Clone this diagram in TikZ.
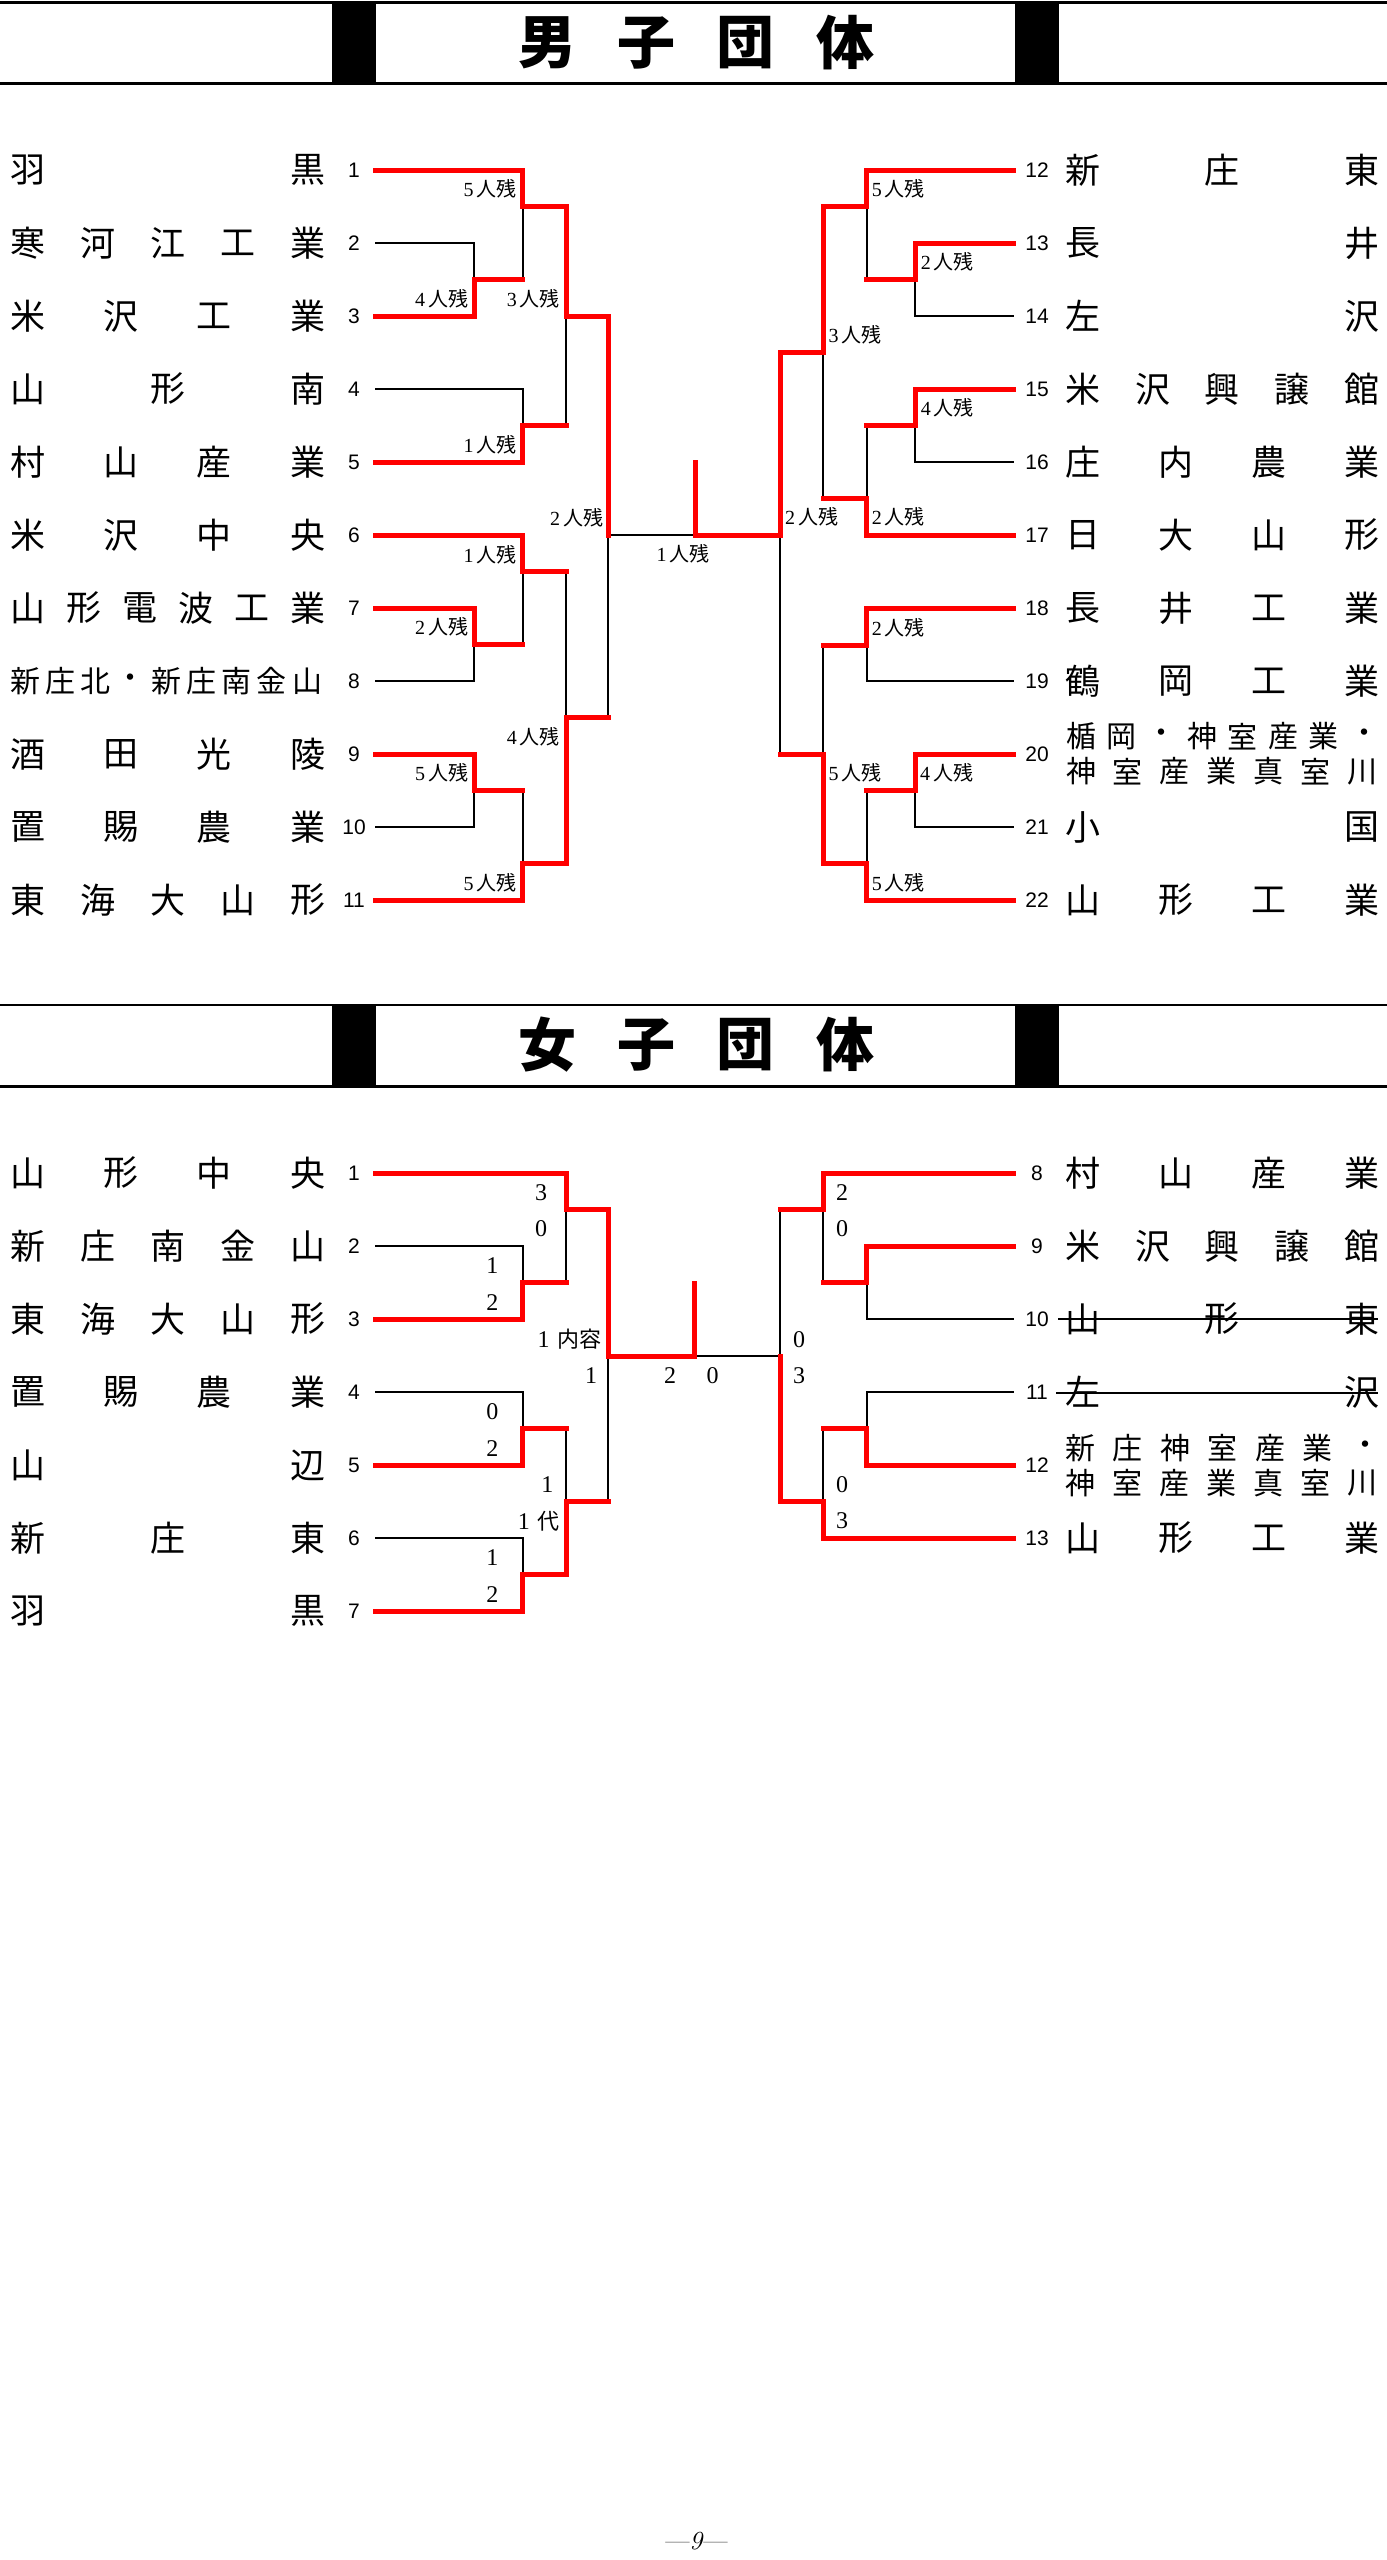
\documentclass[tikz,border=0pt]{standalone}
\usepackage{fontspec}
\newfontfamily\cjk{Noto Sans CJK JP}
\newfontfamily\numf{Liberation Sans}
\newfontfamily\serf{Liberation Serif}
\pgfdeclarelayer{back}
\pgfdeclarelayer{bg}
\pgfsetlayers{back,bg,main}
\tikzset{
  win/.style={draw=red, line width=5pt, line cap=rect},
  lose/.style={draw=black, line width=2pt, line cap=rect},
  namesty/.style={inner sep=0pt, font=\cjk\fontsize{35}{35}\selectfont},
  smallname/.style={inner sep=0pt, font=\cjk\fontsize{30}{30}\selectfont},
  numsty/.style={inner sep=0pt, font=\numf\fontsize{21}{21}\selectfont},
  labsty/.style={inner sep=0pt, font=\fontsize{20}{20}\selectfont},
  wlab/.style={inner sep=0pt, font=\serf\fontsize{24}{24}\selectfont},
  titlesty/.style={inner sep=0pt, font=\cjk\bfseries\fontsize{58}{58}\selectfont},
  hdrline/.style={draw=black, line width=2.5pt},
  hdrblock/.style={fill=black},
  strike/.style={draw=black, line width=2pt},
  pagesty/.style={inner sep=0pt, font=\fontsize{26}{26}\selectfont},
}
\newcommand{\win}[2]{\draw[win] (#1) -- (#2);}
\newcommand{\lose}[2]{\begin{pgfonlayer}{bg}\draw[lose] (#1) -- (#2);\end{pgfonlayer}}
% name, x, ytop, ybot, yjunction, winner (t/b)
\newcommand{\match}[6]{%
  \coordinate (#1t) at (#2,#3);
  \coordinate (#1b) at (#2,#4);
  \coordinate (#1j) at (#2,#5);
  \if#6t\lose{#1j}{#1b}\win{#1t}{#1j}\else\lose{#1t}{#1j}\win{#1b}{#1j}\fi}
% prefix, style, x0, x1, y, n, list
\newcommand{\spread}[7]{%
  \foreach \ch [count=\ii] in {#7} {\node[#2] (#1\ii) at ({#3+(\ii-1)*(#4-#3)/(#6-1)},#5) {\ch};}}
% id, number, y, n, list
\newcommand{\lteam}[5]{%
  \coordinate (#1) at (375.7,#3);
  \node[numsty] (#1n) at (354,#3) {#2};
  \spread{#1c}{namesty}{27.5}{307.5}{#3}{#4}{#5}}
\newcommand{\rteam}[5]{%
  \coordinate (#1) at (1013,#3);
  \node[numsty] (#1n) at (1037,#3) {#2};
  \spread{#1c}{namesty}{1083}{1361.5}{#3}{#4}{#5}}
\newcommand{\nin}[1]{{\serf #1}\hspace{3pt}{\cjk 人残}}
\newcommand{\header}[5]{% prefix, ytop, ybot, ymid, title list
  \draw[hdrline] (0,#2) -- (1387,#2);
  \draw[hdrline] (0,#3) -- (1387,#3);
  \fill[hdrblock] (331.8,#2) rectangle (376,#3);
  \fill[hdrblock] (1015,#2) rectangle (1059,#3);
  \spread{#1}{titlesty}{547}{845}{#4}{4}{#5}}

\begin{document}
\begin{tikzpicture}[x=1pt,y=-1pt]
\begin{pgfonlayer}{back}
\fill[white] (0,0) rectangle (1387,2560);
\end{pgfonlayer}
\useasboundingbox (0,0) rectangle (1387,2560);

% ================= headers =================
\header{hm}{2.7}{83.3}{42.5}{男,子,団,体}
\header{hw}{1005}{1086.7}{1045}{女,子,団,体}

% ================= men: teams =================
\lteam{L1}{1}{170}{2}{羽,黒}
\lteam{L2}{2}{243}{5}{寒,河,江,工,業}
\lteam{L3}{3}{316}{4}{米,沢,工,業}
\lteam{L4}{4}{389}{3}{山,形,南}
\lteam{L5}{5}{462}{4}{村,山,産,業}
\lteam{L6}{6}{535}{4}{米,沢,中,央}
\lteam{L7}{7}{608}{6}{山,形,電,波,工,業}
\coordinate (L8) at (375.7,681);
\node[numsty] (L8n) at (354,681) {8};
\spread{L8c}{smallname}{25}{307}{681}{9}{新,庄,北,・,新,庄,南,金,山}
\lteam{L9}{9}{754}{4}{酒,田,光,陵}
\lteam{L10}{10}{827}{4}{置,賜,農,業}
\lteam{L11}{11}{900}{5}{東,海,大,山,形}

\rteam{R12}{12}{170}{3}{新,庄,東}
\rteam{R13}{13}{243}{2}{長,井}
\rteam{R14}{14}{316}{2}{左,沢}
\rteam{R15}{15}{389}{5}{米,沢,興,譲,館}
\rteam{R16}{16}{462}{4}{庄,内,農,業}
\rteam{R17}{17}{535}{4}{日,大,山,形}
\rteam{R18}{18}{608}{4}{長,井,工,業}
\rteam{R19}{19}{681}{4}{鶴,岡,工,業}
\coordinate (R20) at (1013,754);
\node[numsty] (R20n) at (1037,754) {20};
\spread{R20a}{smallname}{1081}{1364}{736.5}{8}{楯,岡,・,神,室,産,業,・}
\spread{R20b}{smallname}{1081}{1362}{771.5}{7}{神,室,産,業,真,室,川}
\rteam{R21}{21}{827}{2}{小,国}
\rteam{R22}{22}{900}{4}{山,形,工,業}

% ================= men: left bracket =================
\match{LA}{474}{243}{316}{279}{b}
\match{LB}{522.7}{170}{279}{206}{t}
\match{LC}{522.7}{389}{462}{425}{b}
\match{LD}{566}{206}{425}{316}{t}
\match{LE}{474}{608}{681}{644}{t}
\match{LF}{522.7}{535}{644}{571}{t}
\match{LG}{474}{754}{827}{790.5}{t}
\match{LH}{522.7}{790.5}{900}{863}{b}
\match{LI}{566}{571}{863}{717}{b}
\match{LS}{608}{316}{717}{535}{t}
\win{L1}{LBt} \lose{L2}{LAt} \win{L3}{LAb} \lose{L4}{LCt} \win{L5}{LCb}
\win{L6}{LFt} \win{L7}{LEt} \lose{L8}{LEb} \win{L9}{LGt} \lose{L10}{LGb} \win{L11}{LHb}
\win{LAj}{LBb} \win{LBj}{LDt} \win{LCj}{LDb} \win{LDj}{LSt}
\win{LEj}{LFb} \win{LFj}{LIt} \win{LGj}{LHt} \win{LHj}{LIb} \win{LIj}{LSb}

% ================= men: right bracket =================
\match{RA}{915}{243}{316}{279}{t}
\match{RB}{866.7}{170}{279}{206}{t}
\match{RC}{915}{389}{462}{425}{t}
\match{RD}{866.7}{425}{535}{498}{b}
\match{RE}{823}{206}{498}{352}{t}
\match{RF}{866.7}{608}{681}{645}{t}
\match{RG}{915}{754}{827}{790.5}{t}
\match{RH}{866.7}{790.5}{900}{863}{b}
\match{RI}{823}{645}{863}{754}{b}
\match{RS}{780}{352}{754}{535}{t}
\win{R12}{RBt} \win{R13}{RAt} \lose{R14}{RAb} \win{R15}{RCt} \lose{R16}{RCb}
\win{R17}{RDb} \win{R18}{RFt} \lose{R19}{RFb} \win{R20}{RGt} \lose{R21}{RGb} \win{R22}{RHb}
\win{RAj}{RBb} \win{RBj}{REt} \win{RCj}{RDt} \win{RDj}{REb} \win{REj}{RSt}
\win{RFj}{RIt} \win{RGj}{RHt} \win{RHj}{RIb} \win{RIj}{RSb}

% ================= men: final =================
\coordinate (MFC) at (695,535);
\coordinate (MFT) at (695,462);
\lose{LSj}{MFC} \win{MFC}{RSj} \win{MFC}{MFT}

% ================= men: labels =================
\node[labsty,anchor=east] (ml1) at (516.7,189) {\nin{5}};
\node[labsty,anchor=east] (ml2) at (468.3,299) {\nin{4}};
\node[labsty,anchor=east] (ml3) at (560,299) {\nin{3}};
\node[labsty,anchor=east] (ml4) at (516.7,445) {\nin{1}};
\node[labsty,anchor=east] (ml5) at (603.3,518) {\nin{2}};
\node[labsty,anchor=east] (ml6) at (516.7,555) {\nin{1}};
\node[labsty,anchor=east] (ml7) at (468.3,627) {\nin{2}};
\node[labsty,anchor=east] (ml8) at (560,737) {\nin{4}};
\node[labsty,anchor=east] (ml9) at (468.3,773) {\nin{5}};
\node[labsty,anchor=east] (ml10) at (516.7,883) {\nin{5}};
\node[labsty] (mfl) at (683,554) {\nin{1}};
\node[labsty,anchor=west] (mr1) at (871.7,189) {\nin{5}};
\node[labsty,anchor=west] (mr2) at (920.7,262) {\nin{2}};
\node[labsty,anchor=west] (mr3) at (828.3,335) {\nin{3}};
\node[labsty,anchor=west] (mr4) at (920.7,408) {\nin{4}};
\node[labsty,anchor=west] (mr5) at (871.7,517) {\nin{2}};
\node[labsty,anchor=west] (mr6) at (785,517) {\nin{2}};
\node[labsty,anchor=west] (mr7) at (871.7,628) {\nin{2}};
\node[labsty,anchor=west] (mr8) at (828.3,773) {\nin{5}};
\node[labsty,anchor=west] (mr9) at (920,773) {\nin{4}};
\node[labsty,anchor=west] (mr10) at (871.7,883) {\nin{5}};

% ================= women: teams =================
\lteam{W1}{1}{1173}{4}{山,形,中,央}
\lteam{W2}{2}{1246}{5}{新,庄,南,金,山}
\lteam{W3}{3}{1319}{5}{東,海,大,山,形}
\lteam{W4}{4}{1392}{4}{置,賜,農,業}
\lteam{W5}{5}{1465}{2}{山,辺}
\lteam{W6}{6}{1538}{3}{新,庄,東}
\lteam{W7}{7}{1611}{2}{羽,黒}
\rteam{W8}{8}{1173}{4}{村,山,産,業}
\rteam{W9}{9}{1246}{5}{米,沢,興,譲,館}
\rteam{W10}{10}{1319}{3}{山,形,東}
\rteam{W11}{11}{1392}{2}{左,沢}
\coordinate (W12) at (1013,1465);
\node[numsty] (W12n) at (1037,1465) {12};
\spread{W12a}{smallname}{1080}{1365}{1448}{7}{新,庄,神,室,産,業,・}
\spread{W12b}{smallname}{1080}{1362.5}{1483}{7}{神,室,産,業,真,室,川}
\rteam{W13}{13}{1538}{4}{山,形,工,業}
\coordinate (s10a) at (1058,1319);
\coordinate (s10b) at (1378,1319);
\coordinate (s11a) at (1056,1392.5);
\coordinate (s11b) at (1378,1392.5);
\draw[strike] (s10a) -- (s10b);
\draw[strike] (s11a) -- (s11b);

% ================= women: left bracket =================
\match{WLA}{522.7}{1246}{1319}{1282}{b}
\match{WLB}{566}{1173}{1282}{1209}{t}
\match{WLC}{522.7}{1392}{1465}{1428}{b}
\match{WLD}{522.7}{1538}{1611}{1574}{b}
\match{WLE}{566}{1428}{1574}{1501}{b}
\match{WLS}{608}{1209}{1501}{1356}{t}
\win{W1}{WLBt} \lose{W2}{WLAt} \win{W3}{WLAb} \lose{W4}{WLCt} \win{W5}{WLCb}
\lose{W6}{WLDt} \win{W7}{WLDb}
\win{WLAj}{WLBb} \win{WLBj}{WLSt} \win{WLCj}{WLEt} \win{WLDj}{WLEb} \win{WLEj}{WLSb}

% ================= women: right bracket =================
\match{WRA}{866.7}{1246}{1319}{1282}{t}
\match{WRB}{823}{1173}{1282}{1209}{t}
\match{WRC}{866.7}{1392}{1465}{1428}{b}
\match{WRD}{823}{1428}{1538}{1501}{b}
\match{WRS}{780}{1209}{1501}{1356}{b}
\win{W8}{WRBt} \win{W9}{WRAt} \lose{W10}{WRAb} \lose{W11}{WRCt} \win{W12}{WRCb}
\win{W13}{WRDb}
\win{WRAj}{WRBb} \win{WRBj}{WRSt} \win{WRCj}{WRDt} \win{WRDj}{WRSb}

% ================= women: final =================
\coordinate (WFC) at (694.3,1356);
\coordinate (WFT) at (694.3,1283);
\win{WLSj}{WFC} \lose{WFC}{WRSj} \win{WFC}{WFT}

% ================= women: labels =================
\node[wlab] (wl1) at (541,1193) {3};
\node[wlab] (wl2) at (541,1229) {0};
\node[wlab] (wl3) at (492.3,1266) {1};
\node[wlab] (wl4) at (492.3,1302.7) {2};
\node[wlab,anchor=east] (wl5) at (601.7,1339.3) {1\hspace{8pt}{\cjk\fontsize{22}{22}\selectfont 内容}};
\node[wlab] (wl6) at (591,1376) {1};
\node[wlab] (wf1) at (670,1376) {2};
\node[wlab] (wf2) at (712.7,1376) {0};
\node[wlab] (wl7) at (492.3,1411.7) {0};
\node[wlab] (wl8) at (492.3,1448.3) {2};
\node[wlab] (wl9) at (547.3,1485) {1};
\node[wlab,anchor=east] (wl10) at (560,1521) {1\hspace{8pt}{\cjk\fontsize{22}{22}\selectfont 代}};
\node[wlab] (wl11) at (492.3,1557.7) {1};
\node[wlab] (wl12) at (492.3,1594.3) {2};
\node[wlab] (wr1) at (842,1193) {2};
\node[wlab] (wr2) at (842,1229) {0};
\node[wlab] (wr3) at (799,1339.3) {0};
\node[wlab] (wr4) at (799,1376) {3};
\node[wlab] (wr5) at (842,1485) {0};
\node[wlab] (wr6) at (842,1521) {3};

% ================= page number =================
\node[pagesty] (pg) at (696.5,2541) {---\textit{9}---};
\end{tikzpicture}
\end{document}
